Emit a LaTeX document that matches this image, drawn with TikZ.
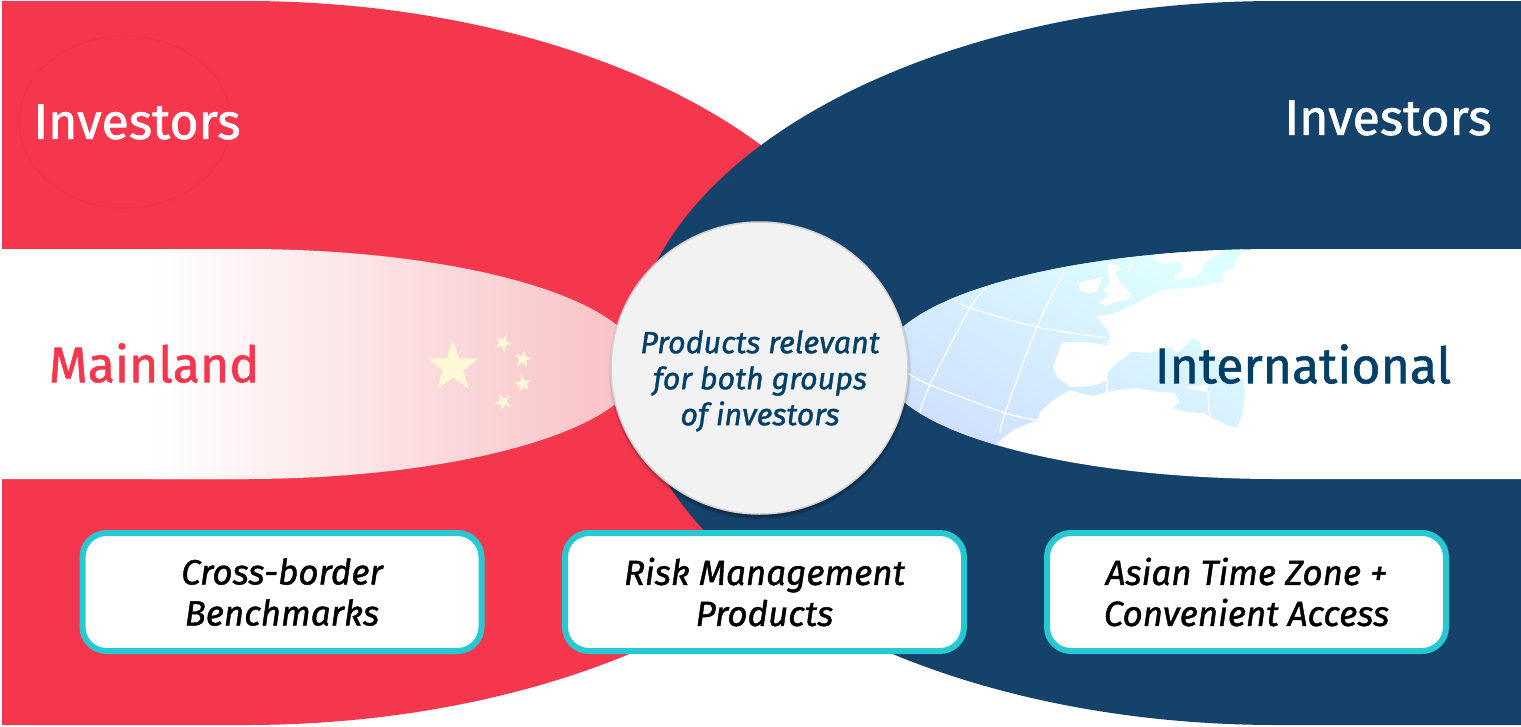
\documentclass[tikz,border=0pt]{standalone}
\usepackage{fontspec}
\setmainfont{Fira Sans}[FakeBold=1.2]
\usetikzlibrary{positioning,shapes.geometric}
\definecolor{redside}{HTML}{F5374E}
\definecolor{redline}{HTML}{F2324A}
\definecolor{blueside}{HTML}{15426B}
\definecolor{bluetext}{HTML}{004068}
\definecolor{tealline}{HTML}{26C9D3}
\definecolor{pinktip}{HTML}{F8C2C5}
\definecolor{seatop}{HTML}{DEFFFF}
\definecolor{seabottom}{HTML}{CDDDFF}
\definecolor{starcolor}{HTML}{FFF8D6}
\definecolor{circlefill}{HTML}{F2F2F2}
\definecolor{circleline}{HTML}{D2D2D2}

\begin{document}
\begin{tikzpicture}
    [ x=1pt, y=-1pt
    , bigword/.style={text=white, font=\fontsize{50}{56}\selectfont, inner sep=0pt}
    , sideword/.style={font=\fontsize{50}{56}\selectfont, inner sep=0pt}
    , featurebox/.style={draw=tealline, line width=6pt, fill=white, rounded corners=24pt
        , minimum width=399pt, minimum height=118pt, align=center, text=black
        , font=\fontsize{35}{41}\selectfont\itshape}
    , flagstar/.style={star, star points=5, star point ratio=2.5, fill=starcolor, inner sep=0pt}
    , gridline/.style={draw=white, line width=1.3pt}
    ]
  \useasboundingbox (0,0) rectangle (1521,726);

  \fill[redside] (245,1) arc[start angle=-90, end angle=90, x radius=646, y radius=362]
    -- (2,725) -- (2,1) -- cycle;
  \begin{scope}
    \clip (245,249) arc[start angle=-90, end angle=90, x radius=395, y radius=115]
      -- (2,479) -- (2,249) -- cycle;
    \fill[white] (0,240) rectangle (260,490);
    \shade[left color=white, right color=pinktip] (152,240) rectangle (625,490);
  \end{scope}
  \draw[redline, line width=1.2pt] (125,122) ellipse [x radius=106, y radius=86];

  \fill[blueside] (1277,1) arc[start angle=270, end angle=90, x radius=646, y radius=362]
    -- (1521,725) -- (1521,1) -- cycle;
  \begin{scope}
    \clip (1277,249) arc[start angle=270, end angle=90, x radius=395, y radius=115]
      -- (1521,479) -- (1521,249) -- cycle;
    \fill[white] (860,240) rectangle (1521,490);
    \shade[top color=seatop, bottom color=seabottom, shading angle=-30]
      (880,240) -- (1243,240) -- (1243,251) -- (1233,263) -- (1235,268) -- (1223,272)
      -- (1223,282) -- (1207,285) -- (1197,287) -- (1187,288) -- (1172,289) -- (1163,290)
      -- (1147,297) -- (1133,305) -- (1117,312) -- (1107,315) -- (1095,316) -- (1102,323)
      -- (1107,330) -- (1110,337) -- (1107,345) -- (1087,342) -- (1062,342) -- (1053,367)
      -- (1057,377) -- (1070,387) -- (1080,387) -- (1097,385) -- (1107,380) -- (1108,372)
      -- (1117,363) -- (1132,352) -- (1152,353) -- (1170,347) -- (1177,353) -- (1187,345)
      -- (1192,338) -- (1200,342) -- (1202,350) -- (1217,357) -- (1220,370) -- (1243,380)
      -- (1245,390) -- (1243,413) -- (1237,428) -- (1227,425) -- (1210,417) -- (1205,413)
      -- (1187,412) -- (1173,408) -- (1180,402) -- (1175,393) -- (1160,392) -- (1137,388)
      -- (1117,390) -- (1107,392) -- (1093,396) -- (1080,393) -- (1070,390) -- (1053,400)
      -- (1040,412) -- (1037,420) -- (1013,430) -- (998,442) -- (990,480) -- (880,480) -- cycle;
    \fill[white] (1153,258) -- (1160,263) -- (1167,264) -- (1175,261) -- (1180,263)
      -- (1183,270) -- (1175,275) -- (1175,279) -- (1185,279) -- (1195,277) -- (1203,270)
      -- (1204,263) -- (1217,255) -- (1227,248) -- (1160,248) -- cycle;
    \fill[white] (1108,263) -- (1123,268) -- (1115,273) -- (1120,282) -- (1132,295)
      -- (1127,300) -- (1115,302) -- (1105,306) -- (1098,302) -- (1110,295) -- (1103,290)
      -- (1110,283) -- (1108,273) -- cycle;
    \fill[white] (1078,283) -- (1090,280) -- (1102,277) -- (1097,292) -- (1088,293)
      -- (1080,290) -- cycle;
    \fill[white] (1183,387) -- (1197,390) -- (1205,392) -- (1207,385) -- cycle;
    \draw[gridline] plot[smooth] coordinates {(987,288) (970,308) (930,385) (920,412)};
    \draw[gridline] plot[smooth] coordinates {(1065,270) (1037,327) (1005,413) (1000,433)};
    \draw[gridline] (1133,260) -- (1128,273);
    \draw[gridline] plot[smooth] coordinates {(953,298) (970,308) (1037,327) (1107,338)};
    \draw[gridline] plot[smooth] coordinates {(908,373) (930,385) (1005,413) (1037,420)};
    \draw[gridline] (1107,380) -- (1107,392);
    \draw[gridline] (1207,385) -- (1210,417);
  \end{scope}

  \node[flagstar, minimum size=54pt] (bigstar) at (453,367) {};
  \node[flagstar, minimum size=18pt, rotate=-25] (starone) at (503,343) {};
  \node[flagstar, minimum size=18pt, rotate=-10] (startwo) at (523,359) {};
  \node[flagstar, minimum size=18pt, rotate=10] (starthree) at (523,384) {};
  \node[flagstar, minimum size=18pt, rotate=25] (starfour) at (503,402) {};

  \foreach \grow in {0,2,4,6,8}
    \fill[black, opacity=0.07] (760,371) ellipse [x radius=147+\grow/2, y radius=145+\grow/2];
  \node[ellipse, draw=circleline, line width=1.5pt, fill=circlefill, minimum width=297pt
    , minimum height=292pt, inner sep=0pt] (middle) at (759.5,368) {};
  \node[align=center, text=bluetext, inner sep=0pt
    , font=\fontsize{30.5}{36}\selectfont\itshape] (middletext) at (760,381)
    {Products relevant\\for both groups\\of investors};

  \node[bigword] (investorsleft) at (137,122) {Investors};
  \node[bigword] (investorsright) at (1388,118) {Investors};
  \node[sideword, text=redside] (mainland) at (154,363) {Mainland};
  \node[sideword, text=bluetext] (international) at (1303,364) {International};

  \node[featurebox] (benchmarks) at (282,592) {Cross-border\\Benchmarks};
  \node[featurebox, right=77.5pt of benchmarks] (riskproducts) {Risk Management\\Products};
  \node[featurebox, right=77pt of riskproducts] (timezone) {Asian Time Zone +\\Convenient Access};
\end{tikzpicture}
\end{document}
